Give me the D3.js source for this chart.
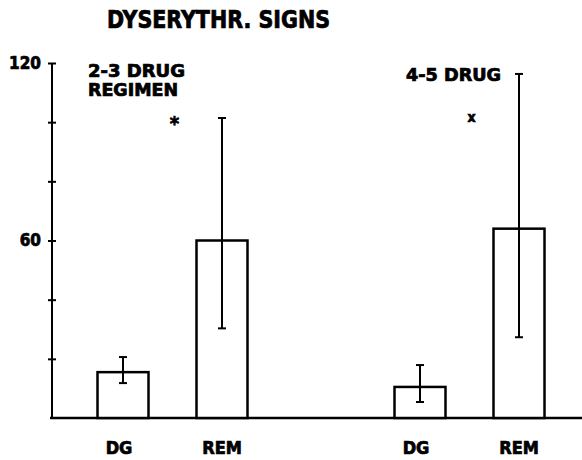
<!DOCTYPE html>
<html>
<head>
<meta charset="utf-8">
<script src="https://cdn.jsdelivr.net/npm/d3@7"></script>
<style>
  body{margin:0;background:#fff;}
  text{font-family:"DejaVu Sans Condensed","DejaVu Sans",sans-serif;font-weight:bold;fill:#000;stroke:#000;stroke-width:0.7px;}
</style>
</head>
<body>
<svg id="chart" width="582" height="460"></svg>
<script>
// data
var barLabels = ["DG","REM","DG","REM"];
var slots = [0,1,3,4];            // position of each bar, slot 2 is the gap between regimens
var means = [15.5,60,10.5,64];
var errLow = [11.8,30.3,5.4,27.3];
var errHigh = [20.6,101.4,17.9,116.3];
var marks = ["*","x"];            // significance marks over REM bars
var markSlots = [0.52,3.52];
var yTicks = [20,40,60,80,100,120];
var yLabels = [60,120];

var svg = d3.select("#chart");

var x = d3.scaleLinear().domain([0,4]).range([123,519]);
var y = d3.scaleLinear().domain([0,120]).range([418,63]);
var barW = 51;

// title
svg.append("text")
	.attr("x",107).attr("y",28)
	.attr("font-size",24)
	.attr("textLength",223).attr("lengthAdjust","spacingAndGlyphs")
	.text("DYSERYTHR. SIGNS");

// y axis
var axis = d3.axisLeft(y)
	.tickValues(yTicks)
	.tickSize(4)
	.tickPadding(7)
	.tickFormat(function(d){ return yLabels.indexOf(d)>=0 ? d : ""; });
var gy = svg.append("g").attr("transform","translate(52,0)").call(axis);
gy.select(".domain").remove();
gy.selectAll(".tick line").attr("x1",4).attr("stroke","#000").attr("stroke-width",2);
gy.selectAll(".tick text")
	.style("font-size","17px")
	.style("font-weight","bold")
	.style("font-family","'DejaVu Sans Condensed','DejaVu Sans',sans-serif");
gy.append("line")
	.attr("x1",0).attr("x2",0)
	.attr("y1",y(120)).attr("y2",y(0))
	.attr("stroke","#000").attr("stroke-width",2);

// baseline
svg.append("line")
	.attr("x1",50).attr("x2",582)
	.attr("y1",y(0)).attr("y2",y(0))
	.attr("stroke","#000").attr("stroke-width",2.5);

// bars
svg.selectAll("rect.bar").data(means).enter().append("rect")
	.attr("class","bar")
	.attr("x",function(d,i){ return x(slots[i])-barW/2; })
	.attr("y",function(d){ return y(d); })
	.attr("width",barW)
	.attr("height",function(d){ return y(0)-y(d); })
	.attr("fill","#fff").attr("stroke","#000").attr("stroke-width",2.5);

// error bars
var eb = svg.selectAll("g.err").data(means).enter().append("g").attr("class","err");
eb.append("line")
	.attr("x1",function(d,i){ return x(slots[i]); })
	.attr("x2",function(d,i){ return x(slots[i]); })
	.attr("y1",function(d,i){ return y(errLow[i]); })
	.attr("y2",function(d,i){ return y(errHigh[i]); })
	.attr("stroke","#000").attr("stroke-width",2);
eb.append("line")
	.attr("x1",function(d,i){ return x(slots[i])-4; })
	.attr("x2",function(d,i){ return x(slots[i])+4; })
	.attr("y1",function(d,i){ return y(errLow[i]); })
	.attr("y2",function(d,i){ return y(errLow[i]); })
	.attr("stroke","#000").attr("stroke-width",2);
eb.append("line")
	.attr("x1",function(d,i){ return x(slots[i])-4; })
	.attr("x2",function(d,i){ return x(slots[i])+4; })
	.attr("y1",function(d,i){ return y(errHigh[i]); })
	.attr("y2",function(d,i){ return y(errHigh[i]); })
	.attr("stroke","#000").attr("stroke-width",2);

// bar labels
svg.selectAll("text.lab").data(barLabels).enter().append("text")
	.attr("class","lab")
	.attr("x",function(d,i){ return x(slots[i]) - (d=="DG"?4:0); })
	.attr("y",454)
	.attr("text-anchor","middle")
	.attr("font-size",18)
	.text(function(d){ return d; });

// regimen labels
svg.append("text").attr("x",88).attr("y",77).attr("font-size",17)
	.attr("textLength",97).attr("lengthAdjust","spacingAndGlyphs").text("2-3 DRUG");
svg.append("text").attr("x",88).attr("y",96).attr("font-size",17)
	.attr("textLength",90).attr("lengthAdjust","spacingAndGlyphs").text("REGIMEN");
svg.append("text").attr("x",406).attr("y",81).attr("font-size",17)
	.attr("textLength",95).attr("lengthAdjust","spacingAndGlyphs").text("4-5 DRUG");

// significance marks
svg.selectAll("text.mark").data(marks).enter().append("text")
	.attr("class","mark")
	.attr("x",function(d,i){ return x(markSlots[i]); })
	.attr("y",function(d,i){ return i==0 ? 130 : 122; })
	.attr("text-anchor","middle")
	.attr("font-size",function(d,i){ return i==0 ? 20 : 14; })
	.text(function(d){ return d; });
</script>
</body>
</html>
